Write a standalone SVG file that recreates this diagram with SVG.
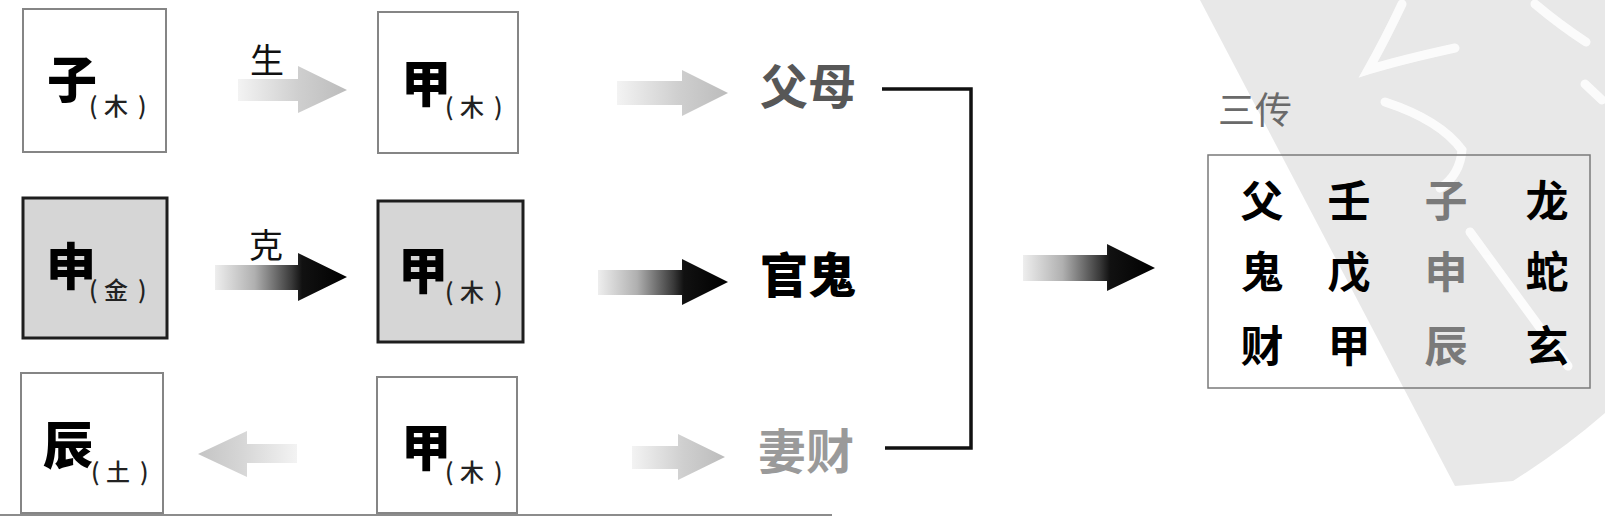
<svg xmlns="http://www.w3.org/2000/svg" width="1605" height="519" viewBox="0 0 1605 519">
  <style>
    .box { fill: #ffffff; stroke: #858585; stroke-width: 2; }
    .boxd { fill: #d6d6d6; stroke: #1e1e1e; stroke-width: 3; }
    .big { font-family: "Noto Sans CJK SC", sans-serif; font-size: 50px; font-weight: 900; fill: #000; text-anchor: middle; }
    .el { font-family: "Noto Sans CJK SC", sans-serif; font-size: 24px; font-weight: 500; fill: #222; }
    .rel { font-family: "Noto Sans CJK SC", sans-serif; font-size: 34px; font-weight: 400; fill: #111; text-anchor: middle; }
    .kin { font-family: "Noto Sans CJK SC", sans-serif; font-size: 48px; font-weight: 700; text-anchor: middle; }
    .kin-mid { fill: #575757; }
    .kin-strong { fill: #000000; font-weight: 900; }
    .kin-light { fill: #9a9a9a; }
    .cell { font-family: "Noto Sans CJK SC", sans-serif; font-size: 43px; font-weight: 700; fill: #000; text-anchor: middle; }
    .cell-gray { fill: #7a7a7a; }
    .title { font-family: "Noto Sans CJK SC", sans-serif; font-size: 37px; font-weight: 400; fill: #6a6a6a; text-anchor: middle; }
  </style>
  <defs>
    <linearGradient id="gLight" x1="0" y1="0" x2="1" y2="0">
      <stop offset="0" stop-color="#f3f3f3"/>
      <stop offset="0.55" stop-color="#cfcfcf"/>
      <stop offset="1" stop-color="#bcbcbc"/>
    </linearGradient>
    <linearGradient id="gLightL" x1="1" y1="0" x2="0" y2="0">
      <stop offset="0" stop-color="#f3f3f3"/>
      <stop offset="0.55" stop-color="#d6d6d6"/>
      <stop offset="1" stop-color="#c4c4c4"/>
    </linearGradient>
    <linearGradient id="gDark" x1="0" y1="0" x2="1" y2="0">
      <stop offset="0" stop-color="#eeeeee"/>
      <stop offset="0.3" stop-color="#b0b0b0"/>
      <stop offset="0.58" stop-color="#3a3a3a"/>
      <stop offset="0.66" stop-color="#111111"/>
      <stop offset="1" stop-color="#000000"/>
    </linearGradient>
  </defs>

  <rect x="0" y="0" width="1605" height="519" fill="#ffffff"/>

  <!-- background watermark shape -->
  <g id="background">
    <path d="M1200,0 L1605,0 L1605,413 Q1565,448 1513,481 L1455,486 Z" fill="#e8e8e8"/>
    <g fill="none" stroke="#ffffff" stroke-width="9" stroke-linecap="round" opacity="0.85">
      <path d="M1402,4 Q1385,40 1368,70 Q1400,60 1455,48"/>
      <path d="M1385,102 Q1440,120 1462,150 Q1460,175 1440,188"/>
      <path d="M1470,232 Q1520,300 1568,366"/>
      <path d="M1535,4 Q1560,25 1586,42"/>
      <path d="M1585,84 L1602,100"/>
    </g>
  </g>

  <line x1="0" y1="515" x2="832" y2="515" stroke="#8c8c8c" stroke-width="2"/>

  <!-- nodes -->
  <g id="node-zi">
    <rect class="box" x="23" y="9" width="143" height="143"/>
    <text class="big" x="72" y="98">子</text>
    <text class="el" x="89 104 138" y="115">(木)</text>
  </g>
  <g id="node-jia-top">
    <rect class="box" x="378" y="12" width="140" height="141"/>
    <text class="big" x="426" y="102">甲</text>
    <text class="el" x="445 460 494" y="116">(木)</text>
  </g>
  <g id="node-shen">
    <rect class="boxd" x="23" y="198" width="144" height="140"/>
    <text class="big" x="71" y="285">申</text>
    <text class="el" x="89 104 138" y="299">(金)</text>
  </g>
  <g id="node-jia-mid">
    <rect class="boxd" x="378" y="201" width="145" height="141"/>
    <text class="big" x="423" y="289">甲</text>
    <text class="el" x="445 460 494" y="301">(木)</text>
  </g>
  <g id="node-chen">
    <rect class="box" x="21" y="373" width="142" height="140"/>
    <text class="big" x="68" y="464">辰</text>
    <text class="el" x="91 106 140" y="481">(土)</text>
  </g>
  <g id="node-jia-bot">
    <rect class="box" x="377" y="377" width="140" height="136"/>
    <text class="big" x="426" y="466">甲</text>
    <text class="el" x="445 460 494" y="481">(木)</text>
  </g>

  <g id="node-fumu"><text class="kin kin-mid" x="808" y="104">父母</text></g>
  <g id="node-guangui"><text class="kin kin-strong" x="808" y="293">官鬼</text></g>
  <g id="node-qicai"><text class="kin kin-light" x="806" y="469">妻财</text></g>

  <g id="node-sanchuan">
    <text class="title" x="1255" y="124">三传</text>
    <rect x="1208" y="155" width="382" height="233" fill="none" stroke="#7a7a7a" stroke-width="1.5"/>
    <text class="cell" x="1262" y="217">父</text>
    <text class="cell" x="1349" y="217">壬</text>
    <text class="cell cell-gray" x="1446" y="217">子</text>
    <text class="cell" x="1547" y="217">龙</text>
    <text class="cell" x="1262" y="288">鬼</text>
    <text class="cell" x="1349" y="288">戊</text>
    <text class="cell cell-gray" x="1446" y="288">申</text>
    <text class="cell" x="1547" y="288">蛇</text>
    <text class="cell" x="1262" y="362">财</text>
    <text class="cell" x="1349" y="362">甲</text>
    <text class="cell cell-gray" x="1446" y="362">辰</text>
    <text class="cell" x="1547" y="362">玄</text>
  </g>

  <!-- connectors -->
  <g id="connectors">
    <text class="rel" x="267" y="73">生</text>
    <polygon fill="url(#gLight)" points="238,79 298,79 298,66 347,90 298,113 298,101 238,101"/>
    <text class="rel" x="266" y="258">克</text>
    <polygon fill="url(#gDark)" points="215,265 298,265 298,253 347,277 298,301 298,290 215,290"/>
    <polygon fill="url(#gLightL)" points="297,444 247,444 247,431 198,454 247,477 247,463 297,463"/>

    <polygon fill="url(#gLight)" points="617,81 682,81 682,70 728,93 682,116 682,105 617,105"/>
    <polygon fill="url(#gDark)" points="598,270 682,270 682,259 728,282 682,305 682,295 598,295"/>
    <polygon fill="url(#gLight)" points="632,446 678,446 678,434 725,457 678,480 678,469 632,469"/>

    <path d="M882,89 H971 V448 H885" fill="none" stroke="#111111" stroke-width="3.5"/>

    <polygon fill="url(#gDark)" points="1023,255 1107,255 1107,244 1155,268 1107,291 1107,281 1023,281"/>
  </g>
</svg>
